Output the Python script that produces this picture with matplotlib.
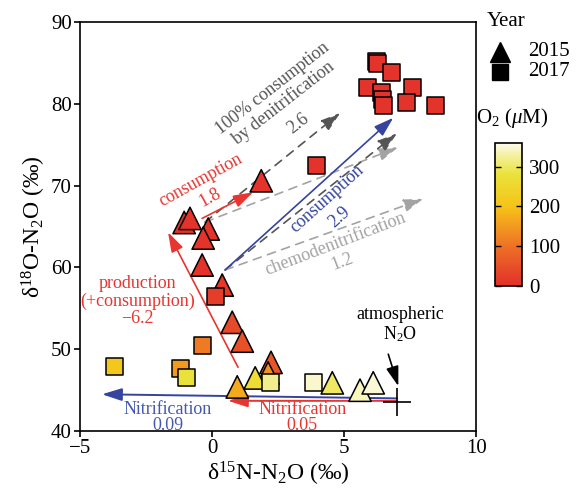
import numpy as np
import matplotlib
matplotlib.use("Agg")
import matplotlib.pyplot as plt
from matplotlib.colors import LinearSegmentedColormap, Normalize
from matplotlib.lines import Line2D

plt.rcParams['font.family'] = ['Liberation Serif', 'DejaVu Serif']
plt.rcParams['mathtext.fontset'] = 'custom'
plt.rcParams['mathtext.rm'] = 'Liberation Serif'
plt.rcParams['mathtext.it'] = 'Liberation Serif:italic'
plt.rcParams['mathtext.bf'] = 'Liberation Serif:bold'

# 2015 samples (triangles)
x_2015 = [-1.06, -0.84, -0.15, -0.34, -0.38, 0.38, 0.76, 1.14, 1.86,
          2.23, 2.12, 0.95, 1.63, 4.55, 5.60, 6.10]
y_2015 = [65.5, 66.0, 64.7, 63.6, 60.3, 57.85, 53.3, 51.0, 70.6,
          48.4, 47.1, 45.4, 46.5, 45.9, 45.0, 45.9]
o2_2015 = [5, 5, 5, 5, 5, 15, 40, 50, 5,
           55, 140, 170, 265, 300, 340, 350]

# 2017 samples (squares)
x_2017 = [-3.71, -1.21, -0.98, -0.38, 0.11, 3.94, 2.20, 3.83,
          6.21, 6.25, 6.78, 5.87, 6.40, 6.44, 6.48, 7.58, 7.35, 8.45]
y_2017 = [47.95, 47.7, 46.5, 50.5, 56.4, 72.5, 46.0, 46.0,
          85.2, 84.9, 83.8, 82.05, 81.4, 80.5, 79.85, 82.05, 80.2, 79.85]
o2_2017 = [210, 150, 280, 110, 20, 5, 320, 345,
           5, 5, 5, 5, 5, 5, 5, 5, 5, 5]

atm_n2o = (7.0, 43.6)
years = ['2015', '2017']

cmap = LinearSegmentedColormap.from_list('o2', [
    (0.00, '#e2302a'), (0.28, '#ee7226'), (0.55, '#f6c218'),
    (0.78, '#eae23b'), (0.90, '#f3ef94'), (1.00, '#fdfcef')])
norm = Normalize(0, 360)

RED = '#e8352f'
BLUE = '#34449f'
DGRAY = '#555555'
LGRAY = '#a3a3a3'

fig = plt.figure(figsize=(5.85, 4.91), dpi=100)
ax = fig.add_axes([0.137, 0.122, 0.677, 0.833])

def arrow(x0, y0, x1, y1, color, ls='-', lw=1.2):
    ax.annotate('', xy=(x1, y1), xytext=(x0, y0),
                arrowprops=dict(arrowstyle='-|>,head_length=1.0,head_width=0.32',
                                color=color, lw=lw, linestyle=ls,
                                shrinkA=0, shrinkB=0, mutation_scale=12),
                zorder=2)

dash = (0, (5, 4))
# dashed reference slopes
arrow(-0.27, 65.55, 4.85, 78.9, DGRAY, dash)
arrow(-0.27, 65.55, 7.05, 74.7, LGRAY, dash)
arrow(0.49, 59.7, 7.0, 76.4, DGRAY, dash)
arrow(0.49, 59.7, 8.0, 68.4, LGRAY, dash)
# solid arrows
arrow(0.49, 59.7, 6.86, 78.3, BLUE)
arrow(-0.38, 66.0, 1.55, 69.2, RED)
arrow(0.98, 47.8, -1.67, 64.3, RED)
arrow(7.0, 44.0, -4.17, 44.5, BLUE, lw=1.4)
arrow(7.0, 43.7, 0.6, 43.7, RED, lw=1.4)

ax.scatter(x_2015, y_2015, c=o2_2015, cmap=cmap, norm=norm, marker='^',
           s=260, edgecolors='black', linewidths=1.1, zorder=3)
ax.scatter(x_2017, y_2017, c=o2_2017, cmap=cmap, norm=norm, marker='s',
           s=150, edgecolors='black', linewidths=1.1, zorder=4)
ax.plot([atm_n2o[0]], [atm_n2o[1]], marker='+', color='black', ms=20,
        mew=1.2, zorder=4)

fs = 13
ax.text(2.5, 81.0, '100% consumption\nby denitrification', color=DGRAY,
        fontsize=fs, rotation=38, ha='center', va='center',
        rotation_mode='anchor', linespacing=1.0)
ax.text(3.26, 77.65, '2.6', color=DGRAY, fontsize=fs, rotation=38,
        ha='center', va='center', rotation_mode='anchor')
ax.text(-0.45, 70.7, 'consumption', color=RED, fontsize=fs, rotation=29,
        ha='center', va='center', rotation_mode='anchor')
ax.text(-0.08, 68.6, '1.8', color=RED, fontsize=fs, rotation=29,
        ha='center', va='center', rotation_mode='anchor')
ax.text(4.36, 68.4, 'consumption', color=BLUE, fontsize=fs, rotation=42,
        ha='center', va='center', rotation_mode='anchor')
ax.text(4.81, 66.2, '2.9', color=BLUE, fontsize=fs, rotation=42,
        ha='center', va='center', rotation_mode='anchor')
ax.text(4.66, 62.9, 'chemodenitrification', color=LGRAY, fontsize=fs,
        rotation=21, ha='center', va='center', rotation_mode='anchor')
ax.text(4.92, 60.7, '1.2', color=LGRAY, fontsize=fs, rotation=21,
        ha='center', va='center', rotation_mode='anchor')
ax.text(-2.84, 55.9, 'production\n(+consumption)\n\u22126.2', color=RED,
        fontsize=fs, ha='center', va='center', linespacing=1.05)
ax.text(-1.67, 41.7, 'Nitrification\n0.09', color='#4458b0', fontsize=fs,
        ha='center', va='center', linespacing=0.95)
ax.text(3.41, 41.7, 'Nitrification\n0.05', color=RED, fontsize=fs,
        ha='center', va='center', linespacing=0.95)
ax.text(7.12, 53.0, 'atmospheric\nN$_2$O', color='black', fontsize=fs,
        ha='center', va='center', linespacing=1.1)
ax.annotate('', xy=(7.05, 45.5), xytext=(6.67, 49.4),
            arrowprops=dict(arrowstyle='-|>,head_length=1.0,head_width=0.32',
                            color='black', lw=1.2, shrinkA=0, shrinkB=0,
                            mutation_scale=12))

ax.set_xlim(-5, 10)
ax.set_ylim(40, 90)
ax.set_xticks([-5, 0, 5, 10])
ax.set_yticks([40, 50, 60, 70, 80, 90])
ax.tick_params(labelsize=15, direction='out', length=4, width=1.2, pad=2)
for sp in ax.spines.values():
    sp.set_linewidth(1.2)
ax.set_xlabel('\u03b4$^{15}$N-N$_2$O (\u2030)', fontsize=17, labelpad=1)
ax.set_ylabel('\u03b4$^{18}$O-N$_2$O (\u2030)', fontsize=17, labelpad=2)

# year legend (figure coordinates)
fig.text(0.865, 1 - 22 / 491, 'Year', fontsize=15, ha='center', va='center')
for yr, mk, ms, ypx in zip(years, ['^', 's'], [15, 12], [52, 72]):
    yf = 1 - ypx / 491
    fig.add_artist(Line2D([500 / 585], [yf], marker=mk, color='black', ms=ms,
                          ls='none', transform=fig.transFigure))
    fig.text(528 / 585, yf, yr, fontsize=15, ha='left', va='center')

fig.text(0.876, 1 - 118 / 491, 'O$_2$ ($\\mu$M)', fontsize=15,
         ha='center', va='center')

cax = fig.add_axes([0.846, 0.418, 0.046, 0.291])
sm = plt.cm.ScalarMappable(norm=norm, cmap=cmap)
cb = fig.colorbar(sm, cax=cax, ticks=[0, 100, 200, 300])
cb.ax.tick_params(labelsize=15, direction='in', length=4, width=1.0,
                  left=True, pad=5)
cb.outline.set_linewidth(1.2)

fig.savefig('out.png', dpi=100)
